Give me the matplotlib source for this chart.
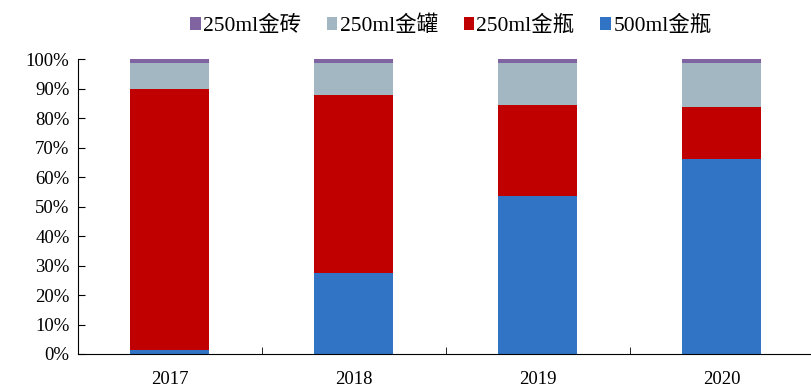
import matplotlib.pyplot as plt
import numpy as np
from matplotlib.ticker import FixedLocator, PercentFormatter

plt.rcParams['font.family'] = ['Liberation Serif', 'Noto Sans CJK SC']

years = ['2017', '2018', '2019', '2020']
series_names = ['500ml金瓶', '250ml金瓶', '250ml金罐', '250ml金砖']
# shares in percent, bottom to top
bottle_500 = [1.3, 27.3, 53.5, 66.0]
bottle_250 = [88.7, 60.5, 31.1, 17.8]
can_250 = [8.6, 10.8, 14.0, 14.8]
brick_250 = [1.4, 1.4, 1.4, 1.4]
colors = ['#3174c6', '#c00000', '#a2b7c2', '#8064a2']

fig = plt.figure(figsize=(8.12, 3.89), dpi=100)
ax = fig.add_axes([0.096, 0.09, 0.906, 0.758])

x = np.arange(len(years))
bottom = np.zeros(len(years))
handles = []
for name, vals, c in zip(series_names, [bottle_500, bottle_250, can_250, brick_250], colors):
    b = ax.bar(x, vals, 0.43, bottom=bottom, color=c, label=name, zorder=2)
    handles.append(b)
    bottom += np.array(vals)

ax.set_xlim(-0.5, 3.5)
ax.set_ylim(0, 100)
ax.set_yticks(np.arange(0, 101, 10))
ax.yaxis.set_major_formatter(PercentFormatter(decimals=0))
ax.set_xticks(x)
ax.set_xticklabels(years)
ax.xaxis.set_minor_locator(FixedLocator([0.5, 1.5, 2.5]))
ax.tick_params(axis='x', which='major', length=0, pad=12, labelsize=13.5)
ax.tick_params(axis='x', which='minor', direction='in', length=5)
ax.tick_params(axis='y', direction='in', length=5, labelsize=13.5, pad=6)
for s in ['top', 'right']:
    ax.spines[s].set_visible(False)
for s in ['left', 'bottom']:
    ax.spines[s].set_zorder(3)

# legend lists the top segment first
leg = fig.legend(handles[::-1], series_names[::-1], loc='upper center',
                 bbox_to_anchor=(0.555, 1.01), ncol=4, frameon=False,
                 fontsize=15.5, handlelength=0.5, handleheight=0.6,
                 handletextpad=0.1, columnspacing=1.2)

fig.savefig('out.png', dpi=100)
